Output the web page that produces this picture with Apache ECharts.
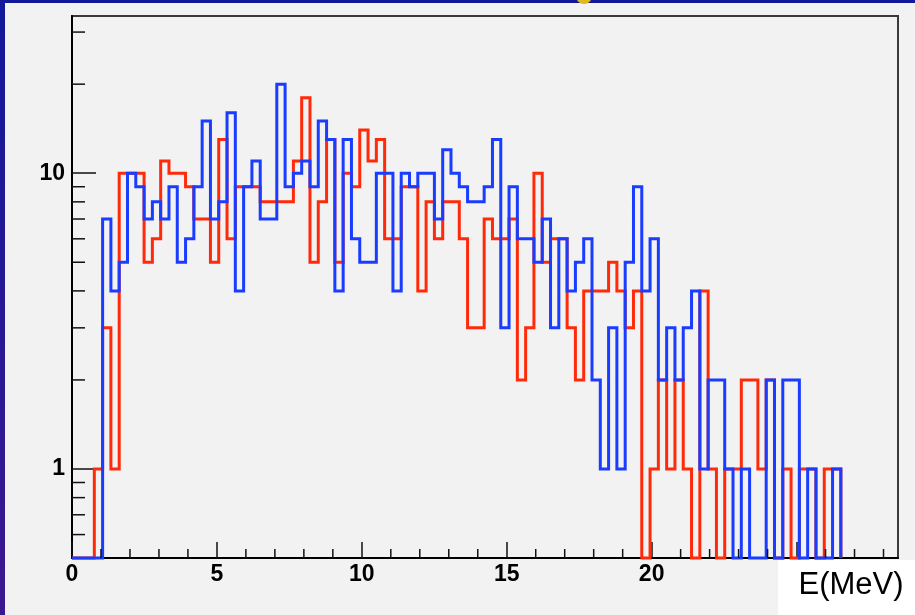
<!DOCTYPE html>
<html>
<head>
<meta charset="utf-8">
<title>E(MeV) spectrum</title>
<script src="https://cdn.jsdelivr.net/npm/echarts@6/dist/echarts.min.js"></script>
<style>
  html, body { margin: 0; padding: 0; background: #f2f2f2; }
  #chart { width: 915px; height: 615px; }
</style>
</head>
<body>
<div id="chart"></div>
<script>
// histogram binning
const binStart = 0.77
const binWidth = 0.2862

// counts per bin, red and blue histograms
const redCounts = [
  1, 3, 1, 10, 10, 10, 5, 6, 11, 10,
  10, 9, 7, 7, 5, 13, 6, 9, 9, 9,
  8, 8, 8, 8, 11, 18, 5, 8, 13, 5,
  10, 9, 14, 11, 13, 6, 6, 9, 9, 4,
  8, 6, 8, 8, 6, 3, 3, 7, 6, 6,
  7, 2, 3, 10, 5, 6, 6, 3, 2, 4,
  4, 4, 5, 4, 3, 4, 0, 1, 2, 1,
  2, 1, 0, 4, 1, 0, 1, 1, 2, 2,
  1, 2, 0, 1, 0, 1, 1, 0, 1, 1
]
const blueCounts = [
  0, 7, 4, 5, 10, 9, 7, 8, 7, 9,
  5, 6, 9, 15, 7, 8, 16, 4, 9, 11,
  7, 7, 20, 9, 10, 11, 9, 15, 13, 4,
  13, 6, 5, 5, 10, 10, 4, 10, 9, 10,
  10, 7, 12, 10, 9, 8, 8, 9, 13, 3,
  9, 6, 6, 5, 7, 3, 6, 4, 5, 6,
  2, 1, 3, 1, 5, 9, 4, 6, 2, 3,
  2, 3, 4, 1, 2, 2, 1, 0, 1, 0,
  0, 2, 0, 2, 2, 0, 1, 0, 0, 1
]

// axes
const xMin = 0, xMax = 28.5
const yMin = 0.5, yMax = 34
const xMajorTicks = [0, 5, 10, 15, 20, 25]
const xTickLabels = [0, 5, 10, 15, 20]
const xMinorTicks = [1, 2, 3, 4, 6, 7, 8, 9, 11, 12, 13, 14, 16, 17, 18, 19, 21, 22, 23, 24, 26, 27, 28]
const yMajorTicks = [1, 10]
const yTickLabels = [1, 10]
const yMinorTicks = [0.6, 0.7, 0.8, 0.9, 2, 3, 4, 5, 6, 7, 8, 9, 20, 30]
const xTitle = 'E(MeV)'

// zero bins sit on the bottom of the frame, like ROOT draws them
const stepPoints = (counts) => {
  const pts = [[xMin, yMin]]
  counts.forEach((c, k) => pts.push([binStart + k * binWidth, c > 0 ? c : yMin]))
  pts.push([binStart + counts.length * binWidth, yMin])
  return pts
}

const histSeries = (name, counts, color) => ({
  name,
  type: 'line',
  step: 'end',
  data: stepPoints(counts),
  showSymbol: false,
  symbol: 'none',
  clip: false,
  lineStyle: { color, width: 3, join: 'miter' },
  animation: false
})

const tickSeries = (data, dx, dy) => ({
  type: 'custom',
  data,
  clip: false,
  silent: true,
  animation: false,
  z: 5,
  renderItem: (params, api) => {
    const p = api.coord([api.value(0), api.value(1)])
    return {
      type: 'line',
      shape: { x1: p[0], y1: p[1], x2: p[0] + dx, y2: p[1] + dy },
      style: { stroke: '#111', lineWidth: 1.5 }
    }
  }
})

const labelFont = { fontFamily: 'Liberation Sans', fontWeight: 'bold', fontSize: 23, color: '#000' }

const chart = echarts.init(document.getElementById('chart'), null, { renderer: 'canvas' })
chart.setOption({
  backgroundColor: '#f2f2f2',
  animation: false,
  grid: {
    left: 72, right: 17, top: 16, bottom: 57,
    show: true,
    backgroundColor: '#f2f2f2',
    borderColor: '#3a3a3a',
    borderWidth: 2,
    outerBoundsMode: 'none'
  },
  xAxis: {
    type: 'value',
    min: xMin,
    max: xMax,
    splitLine: { show: false },
    axisLine: { lineStyle: { color: '#000', width: 2 } },
    axisTick: { inside: true, length: 16, customValues: xMajorTicks, lineStyle: { color: '#111', width: 1.5 } },
    axisLabel: { ...labelFont, margin: 5, customValues: xTickLabels }
  },
  yAxis: {
    type: 'log',
    logBase: 10,
    min: yMin,
    max: yMax,
    splitLine: { show: false },
    axisLine: { show: true, lineStyle: { color: '#000', width: 2 } },
    axisTick: { show: true, inside: true, length: 24, customValues: yMajorTicks, lineStyle: { color: '#111', width: 1.5 } },
    axisLabel: { ...labelFont, margin: 7, customValues: yTickLabels }
  },
  series: [
    histSeries('red', redCounts, '#ff2a0a'),
    histSeries('blue', blueCounts, '#1a3cff'),
    tickSeries(xMinorTicks.map(v => [v, yMin]), 0, -9),
    tickSeries(yMinorTicks.map(v => [xMin, v]), 13, 0)
  ],
  graphic: [
    // blue slide border, top and left
    { type: 'rect', left: 0, top: 0, shape: { width: 915, height: 3 }, style: { fill: '#12189a' }, z: 100 },
    {
      type: 'rect', left: 0, top: 0, shape: { width: 5, height: 615 }, z: 100,
      style: { fill: new echarts.graphic.LinearGradient(0, 0, 0, 1, [
        { offset: 0, color: '#12189a' }, { offset: 1, color: '#3c1890' }
      ]) }
    },
    { type: 'circle', left: 576, top: -12, shape: { r: 8 }, style: { fill: '#e0b820' }, z: 101 },
    // axis title box
    {
      type: 'group', left: 778, top: 560, z: 100,
      children: [
        { type: 'rect', shape: { width: 137, height: 55 }, style: { fill: '#fff' } },
        {
          type: 'text', x: 73, y: 25,
          style: { text: xTitle, font: '31px "Liberation Sans"', fill: '#000', align: 'center', verticalAlign: 'middle' }
        }
      ]
    }
  ]
})
</script>
</body>
</html>
